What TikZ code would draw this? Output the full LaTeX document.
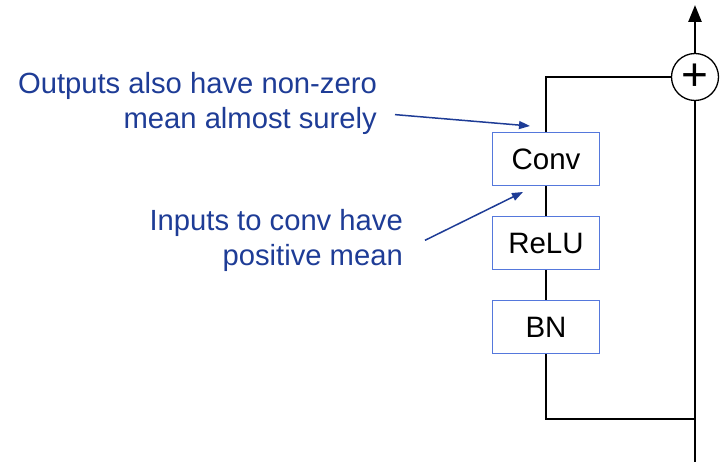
\documentclass[tikz,border=0pt]{standalone}
\usepackage{fontspec}
\setmainfont{Liberation Sans}
\usetikzlibrary{arrows.meta}
\definecolor{notecol}{RGB}{30,60,150}
\definecolor{boxcol}{RGB}{85,120,220}
\begin{document}
\begin{tikzpicture}[x=1pt,y=-1pt,
		layer/.style={draw=boxcol,line width=1.3pt,fill=white,minimum width=107pt,minimum height=53pt,inner sep=0pt,font=\fontsize{29.5}{35}\selectfont},
		note/.style={text=notecol,align=right,inner sep=0pt,font=\fontsize{29.2}{35}\selectfont},
		notearrow/.style={draw=notecol,line width=1.5pt,-{Triangle[length=11pt,width=8pt]}},
		wire/.style={line width=2.6pt}]
	\useasboundingbox (0,0) rectangle (722,462);

	% Residual branch
	\node[layer] (conv) at (546,159) {Conv};
	\node[layer] (relu) at (546,243) {ReLU};
	\node[layer] (bn) at (546,327) {BN};
	\node[draw,circle,line width=1.3pt,minimum size=47pt,inner sep=0pt,font=\fontsize{46}{46}\selectfont] (add) at (695,77) {+};

	% Identity path
	\coordinate (in) at (695,462);
	\coordinate (split) at (695,419);
	\coordinate (out) at (695,5);

	% Wires
	\draw[wire] (in) -- (add.south);
	\draw[wire] (split) -| (bn.south);
	\draw[wire] (bn.north) -- (relu.south);
	\draw[wire] (relu.north) -- (conv.south);
	\draw[wire] (conv.north) |- (add.west);
	\draw[wire,-{Triangle[length=17pt,width=13pt]}] (add.north) -- (out);

	% Annotations
	\node[note,anchor=north east] (note1) at (377,72) {Outputs also have non-zero\\mean almost surely};
	\node[note,anchor=north east] (note2) at (403,209) {Inputs to conv have\\positive mean};
	\coordinate (tip1) at (530,126);
	\coordinate (tip2) at (523,192);
	\draw[notearrow] ([shift={(18,-20)}]note1.south east) -- (tip1);
	\draw[notearrow] ([xshift=22pt]note2.east) -- (tip2);
\end{tikzpicture}
\end{document}
